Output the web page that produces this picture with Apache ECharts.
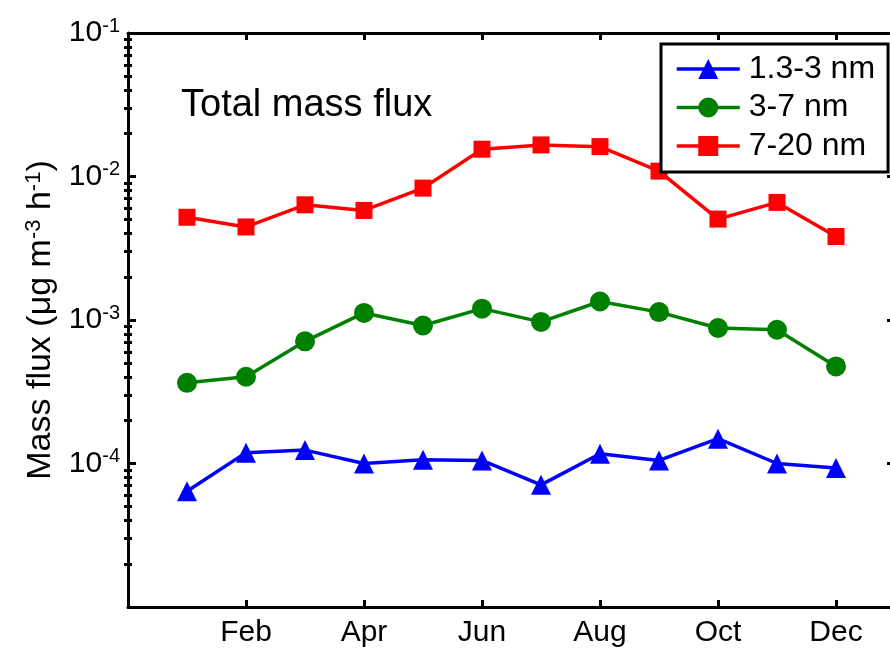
<!DOCTYPE html>
<html>
<head>
<meta charset="utf-8">
<script src="https://cdn.jsdelivr.net/npm/echarts@6/dist/echarts.min.js"></script>
<style>
  html, body { margin: 0; padding: 0; background: #fff; }
  #chart { width: 890px; height: 652px; }
</style>
</head>
<body>
<div id="chart"></div>
<script>
// Monthly mass flux per particle size bin (µg m^-3 h^-1)
const months = ['Jan', 'Feb', 'Mar', 'Apr', 'May', 'Jun', 'Jul', 'Aug', 'Sep', 'Oct', 'Nov', 'Dec'];
const seriesNames = ['1.3-3 nm', '3-7 nm', '7-20 nm'];
const flux_1p3_3 = [6.4e-5, 1.19e-4, 1.24e-4, 1.00e-4, 1.06e-4, 1.05e-4, 7.1e-5, 1.17e-4, 1.05e-4, 1.49e-4, 1.00e-4, 9.3e-5];
const flux_3_7 = [3.65e-4, 4.02e-4, 7.1e-4, 1.12e-3, 9.15e-4, 1.20e-3, 9.7e-4, 1.345e-3, 1.135e-3, 8.8e-4, 8.55e-4, 4.75e-4];
const flux_7_20 = [5.2e-3, 4.45e-3, 6.35e-3, 5.8e-3, 8.3e-3, 1.55e-2, 1.66e-2, 1.615e-2, 1.09e-2, 5.05e-3, 6.6e-3, 3.82e-3];
const xTickValues = [2, 4, 6, 8, 10, 12];
const xTickLabels = ['Feb', 'Apr', 'Jun', 'Aug', 'Oct', 'Dec'];
const yMinorTicks = [];
for (let e = -5; e < -1; e++) {
  for (let m = 2; m <= 9; m++) yMinorTicks.push(m * Math.pow(10, e));
}

const FONT = 'Liberation Sans, Arial, sans-serif';
const toPairs = arr => arr.map((v, i) => [i + 1, v]);

const lineStyleFor = (color) => ({ color: color, width: 3.5 });

const yBase = {
  type: 'log',
  logBase: 10,
  min: 1e-5,
  max: 1e-1,
  splitLine: { show: false },
  minorTick: { show: false },
  axisLine: { show: true, onZero: false, lineStyle: { color: '#000', width: 3 } },
};

const chart = echarts.init(document.getElementById('chart'), null, { renderer: 'canvas' });
chart.setOption({
  animation: false,
  backgroundColor: '#fff',
  textStyle: { fontFamily: FONT },
  title: {
    text: 'Total mass flux',
    left: 181,
    top: 87,
    padding: 0,
    textStyle: { fontFamily: FONT, fontSize: 38, fontWeight: 'normal', color: '#000' }
  },
  legend: {
    orient: 'vertical',
    left: 661,
    top: 44,
    padding: [9, 13, 10, 14],
    itemGap: 6.5,
    itemWidth: 63,
    itemHeight: 25,
    borderColor: '#000',
    borderWidth: 3,
    backgroundColor: '#fff',
    lineStyle: { width: 3.5 },
    textStyle: { fontFamily: FONT, fontSize: 32, lineHeight: 32, color: '#000', padding: [0, 0, 0, 4] },
    data: seriesNames
  },
  grid: { left: 128, top: 33, width: 767, height: 574, outerBoundsMode: 'none', containLabel: false },
  xAxis: [
    {
      type: 'value',
      position: 'bottom',
      min: 0,
      max: 13,
      interval: 2,
      splitLine: { show: false },
      axisLine: { show: true, onZero: false, lineStyle: { color: '#000', width: 3 } },
      axisTick: { show: true, inside: true, length: 7, lineStyle: { color: '#000', width: 3 } },
      axisLabel: {
        show: true,
        margin: 11,
        fontFamily: FONT,
        fontSize: 30,
        color: '#000',
        formatter: v => {
          const k = xTickValues.indexOf(v);
          return k >= 0 ? xTickLabels[k] : '';
        }
      }
    },
    {
      type: 'value',
      position: 'top',
      min: 0,
      max: 13,
      interval: 2,
      splitLine: { show: false },
      axisLine: { show: true, onZero: false, lineStyle: { color: '#000', width: 3 } },
      axisTick: { show: true, inside: true, length: 7, lineStyle: { color: '#000', width: 3 } },
      axisLabel: { show: false }
    }
  ],
  yAxis: [
    Object.assign({}, yBase, {
      position: 'left',
      name: 'Mass flux (μg m{s|-3} h{s|-1})',
      nameLocation: 'middle',
      nameGap: 65,
      nameRotate: 90,
      nameTextStyle: {
        fontFamily: FONT,
        fontSize: 34,
        color: '#000',
        rich: { s: { fontFamily: FONT, fontSize: 22, color: '#000', verticalAlign: 'bottom', padding: [0, 0, 14, 0] } }
      },
      axisTick: { show: true, inside: true, length: 8, lineStyle: { color: '#000', width: 3 } },
      axisLabel: {
        show: true,
        margin: 8,
        formatter: v => {
          const e = Math.round(Math.log10(v));
          if (e <= -5) return '';
          return '{b|10}{s|' + e + '}';
        },
        rich: {
          b: { fontFamily: FONT, fontSize: 30, lineHeight: 30, color: '#000', verticalAlign: 'bottom' },
          s: { fontFamily: FONT, fontSize: 20, lineHeight: 20, color: '#000', verticalAlign: 'bottom', padding: [0, 0, 12, 0] }
        }
      }
    }),
    Object.assign({}, yBase, {
      position: 'left',
      axisLine: { show: false },
      axisTick: { show: true, inside: true, length: 4, customValues: yMinorTicks, lineStyle: { color: '#000', width: 3 } },
      axisLabel: { show: false }
    }),
    Object.assign({}, yBase, {
      position: 'right',
      axisTick: { show: true, inside: true, length: 8, lineStyle: { color: '#000', width: 3 } },
      axisLabel: { show: false }
    }),
    Object.assign({}, yBase, {
      position: 'right',
      axisLine: { show: false },
      axisTick: { show: true, inside: true, length: 4, customValues: yMinorTicks, lineStyle: { color: '#000', width: 3 } },
      axisLabel: { show: false }
    })
  ],
  series: [
    {
      name: seriesNames[0],
      type: 'line',
      data: toPairs(flux_1p3_3),
      symbol: 'triangle',
      symbolSize: 20,
      itemStyle: { color: '#0000ff' },
      lineStyle: lineStyleFor('#0000ff')
    },
    {
      name: seriesNames[1],
      type: 'line',
      data: toPairs(flux_3_7),
      symbol: 'circle',
      symbolSize: 20,
      itemStyle: { color: '#008000' },
      lineStyle: lineStyleFor('#008000')
    },
    {
      name: seriesNames[2],
      type: 'line',
      data: toPairs(flux_7_20),
      symbol: 'rect',
      symbolSize: 17,
      itemStyle: { color: '#ff0000' },
      lineStyle: lineStyleFor('#ff0000')
    }
  ]
});
</script>
</body>
</html>
